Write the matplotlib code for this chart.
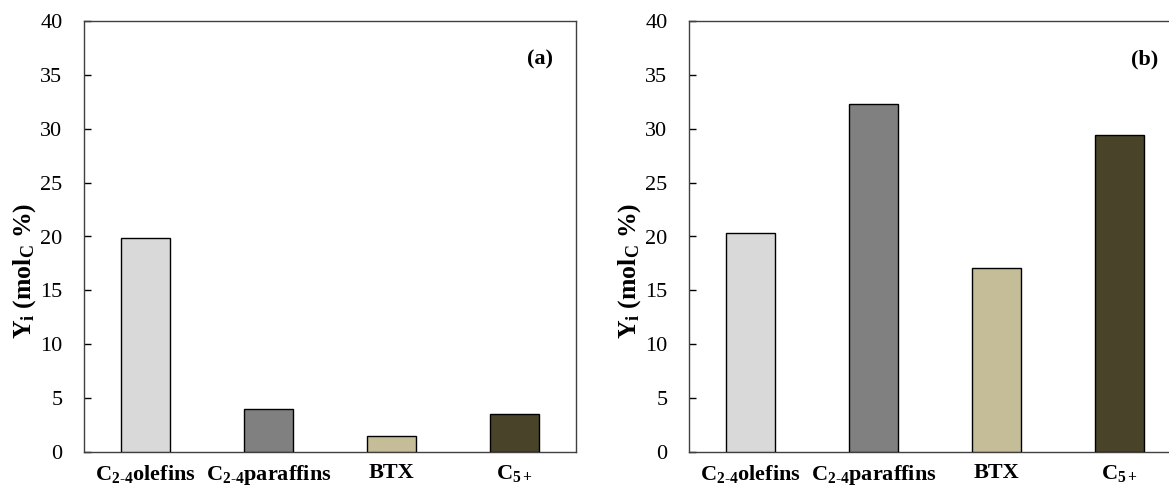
import matplotlib
matplotlib.use("Agg")
import matplotlib.pyplot as plt

plt.rcParams['font.family'] = ['Liberation Serif', 'DejaVu Serif']
plt.rcParams['mathtext.fontset'] = 'custom'
plt.rcParams['mathtext.rm'] = 'Liberation Serif'
plt.rcParams['mathtext.it'] = 'Liberation Serif:bold'
plt.rcParams['mathtext.bf'] = 'Liberation Serif:bold'
plt.rcParams['mathtext.default'] = 'bf'

categories = [r'C$_{2\text{-}4}$olefins', r'C$_{2\text{-}4}$paraffins', 'BTX', r'C$_{5+}$']
values_a = [19.9, 4.0, 1.5, 3.5]
values_b = [20.3, 32.3, 17.1, 29.4]
colors = ['#D9D9D9', '#808080', '#C4BD97', '#494429']
panel_labels = ['(a)', '(b)']
yticks = [0, 5, 10, 15, 20, 25, 30, 35, 40]

fig = plt.figure(figsize=(11.69, 4.86), dpi=100)
W, H = 1169, 486
axes_px = [(84, 452, 492, 431), (689, 452, 492, 431)]

for (left, bottom, w, h), vals, lab in zip(axes_px, [values_a, values_b], panel_labels):
    ax = fig.add_axes([left / W, (H - bottom) / H, w / W, h / H])
    x = list(range(len(categories)))
    ax.bar(x, vals, width=0.4, color=colors, edgecolor='black', linewidth=1.0, zorder=3)
    ax.set_xlim(-0.5, 3.5)
    ax.set_ylim(0, 40)
    ax.set_yticks(yticks)
    ax.set_xticks(x)
    ax.set_xticklabels(categories, fontsize=16, fontweight='bold')
    ax.tick_params(axis='y', direction='in', length=5, width=1, labelsize=16, pad=15.5)
    ax.tick_params(axis='x', length=0, pad=8)
    for s in ax.spines.values():
        s.set_color('#404040')
        s.set_linewidth(1.0)
    ax.set_ylabel(r'Y$_i$ (mol$_C$ %)', fontsize=18.5, fontweight='bold')
    ax.yaxis.set_label_coords(-0.093, 0.42)
    ax.text(0.953, 0.91, lab, transform=ax.transAxes, ha='right', va='center',
            fontsize=16, fontweight='bold')

fig.savefig('out.png', dpi=100)
